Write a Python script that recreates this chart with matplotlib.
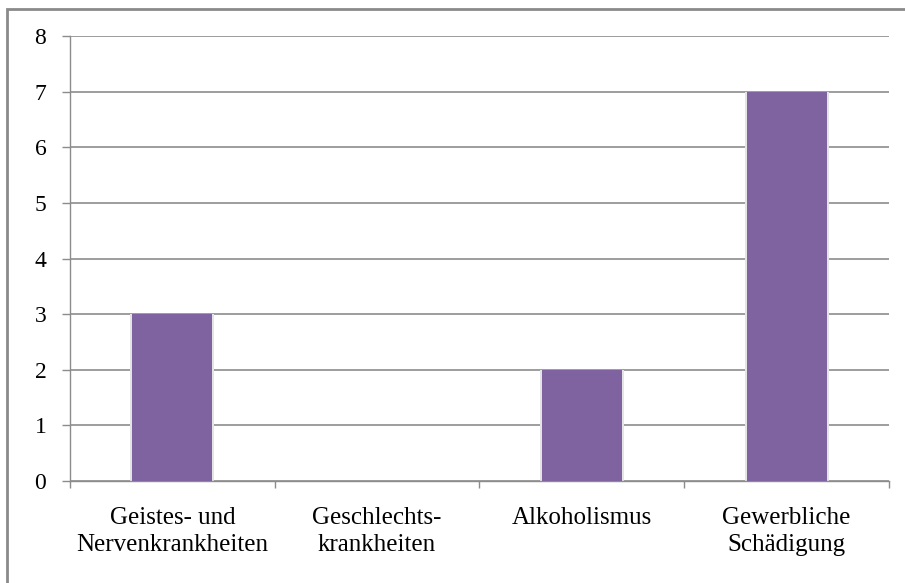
import matplotlib.pyplot as plt
from matplotlib.patches import Rectangle

categories = ['Geistes- und\nNervenkrankheiten', 'Geschlechts-\nkrankheiten',
              'Alkoholismus', 'Gewerbliche\nSchädigung']
values = [3, 0, 2, 7]
y_ticks = [0, 1, 2, 3, 4, 5, 6, 7, 8]

plt.rcParams['font.family'] = ['Liberation Serif', 'DejaVu Serif']

fig = plt.figure(figsize=(9.05, 5.83), dpi=100)
ax = fig.add_axes([0.0773, 0.175, 0.905, 0.763])

# outer frame (only left and top visible in the reference)
fig.patches.append(Rectangle((7 / 905, -0.1), 1.2, 1 - 9 / 583 + 0.1,
                             transform=fig.transFigure, fill=False,
                             edgecolor='#8a8a8a', linewidth=2))

x = range(len(categories))
# soft shadow behind bars
ax.bar(x, values, width=0.41, color='#e4e4e4', zorder=2)
ax.bar(x, values, width=0.39, color='#7F63A0', zorder=3)

ax.set_ylim(0, 8)
ax.set_xlim(-0.5, len(categories) - 0.5)
ax.set_yticks(y_ticks)
ax.yaxis.grid(True, color='#8c8c8c', linewidth=1.2)
ax.set_axisbelow(True)

ax.set_xticks([-0.5, 0.5, 1.5, 2.5, 3.5])
ax.set_xticklabels([])
ax.set_xticks(list(x), minor=True)
ax.set_xticklabels(categories, minor=True, fontsize=18, linespacing=1.25)
ax.tick_params(axis='x', which='minor', length=0, pad=19)
ax.tick_params(axis='x', which='major', length=5, color='#8c8c8c', width=1)
ax.tick_params(axis='y', length=6, color='#8c8c8c', width=1, labelsize=17, pad=11)

for side in ['top', 'right']:
    ax.spines[side].set_visible(False)
for side in ['left', 'bottom']:
    ax.spines[side].set_color('#8c8c8c')
    ax.spines[side].set_linewidth(1)

fig.savefig('out.png', dpi=100)
